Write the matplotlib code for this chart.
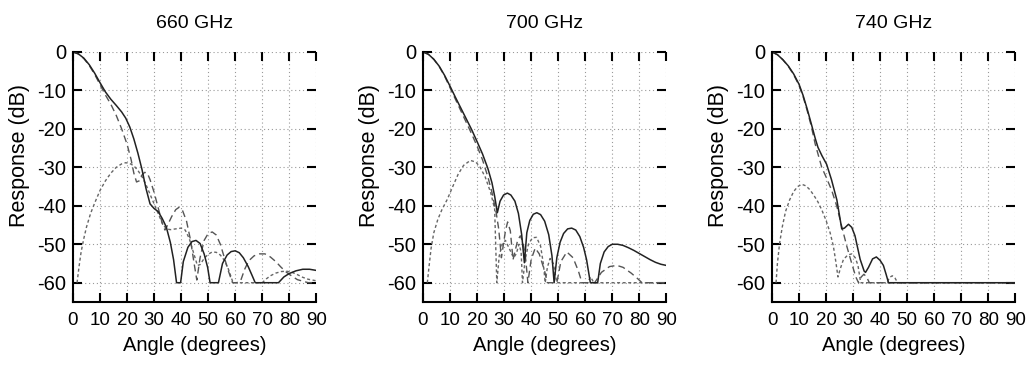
import matplotlib
matplotlib.use("Agg")
import matplotlib.pyplot as plt

plt.rcParams["font.family"] = ["Liberation Sans", "DejaVu Sans"]
plt.rcParams["axes.unicode_minus"] = False

titles = ["660 GHz", "700 GHz", "740 GHz"]

# ---- 660 GHz ----
s1_ang = [0, 2, 4, 6, 8, 10, 12, 14, 16, 18, 19.5, 21, 22.5, 24, 25.5, 27, 28.5, 30, 31.5, 33,
          34.5, 36, 37.2, 38.3, 39.8, 40.8, 42.5, 44, 45.5, 47, 48.5, 49.8, 50.7, 53.8, 55.3, 57,
          58.5, 60, 61.5, 63, 64.8, 66.3, 67.4, 76, 78, 80, 82.5, 85, 87.5, 90]
s1_db = [0, -0.5, -1.6, -3.3, -5.5, -8, -10.4, -12.3, -13.9, -15.6, -17.2, -19.5, -22.6, -26.3,
         -30.5, -35.5, -39.5, -40.7, -41.5, -43.3, -45.5, -49.5, -54, -60, -60, -54.5, -50.8,
         -49.3, -49, -49.8, -52.5, -56, -60, -60, -55, -52.8, -51.9, -51.7, -52.2, -53.5, -55.8,
         -58.2, -60, -60, -58.5, -57.6, -56.9, -56.5, -56.5, -56.8]

l1_ang = [0, 2, 4, 6, 8, 10, 12, 14, 16, 18, 20, 21.5, 22.5, 23.5, 24.5, 25.5, 26.5, 27.5, 28.5,
          30, 31.5, 33, 34, 35, 36.5, 38, 39.2, 40.5, 42, 43.5, 44.8, 45.8, 47, 48.5, 50, 51.5,
          53, 54.5, 56, 57.5, 59, 60.5, 62, 63.5, 65, 67, 69, 71, 73, 75, 77, 79, 81, 83, 85, 87, 90]
l1_db = [0, -0.5, -1.7, -3.5, -5.8, -8.5, -11.2, -13.6, -16.5, -20, -24, -28, -31.5, -33.8, -33.5,
         -32, -31.3, -31.5, -33.2, -36.5, -40.5, -44.5, -46.3, -45, -42.8, -41, -40.4, -41.2, -44,
         -49, -55, -59.3, -53.5, -49, -47.2, -46.8, -47.6, -50, -53.5, -57, -60, -60, -59.5, -56.5,
         -54.3, -53, -52.5, -52.5, -53.3, -54.5, -56, -57.3, -58.3, -59.2, -59.6, -60, -60]

d1_ang = [1.5, 2.2, 3, 4, 5, 6.5, 8, 10, 12, 14, 16, 18, 19.5, 21, 22.5, 24, 25.5, 27, 28.5, 30,
          31.5, 33, 34.5, 36, 38, 40, 41.5, 43, 44.5, 46, 47, 48.5, 50, 51.5, 53, 54.5, 56, 57.5,
          59.2, 70, 71.5, 73, 75, 77, 79, 81, 83, 85, 87, 90]
d1_db = [-60, -56, -52, -48.5, -45.5, -42, -39.3, -36, -33.5, -31.5, -30, -29.1, -28.8, -29,
         -29.6, -30.8, -32.4, -34.5, -37, -39.5, -42, -44.5, -46, -46.2, -46, -45.8, -46.3, -48.5,
         -52, -55.5, -55.3, -53.7, -52.6, -52, -52.1, -52.8, -54.2, -56.5, -60, -60, -59, -58.2,
         -57.5, -57.1, -57, -57.3, -57.9, -58.6, -59.1, -59.5]

# ---- 700 GHz ----
s2_ang = [0, 2, 4, 6, 8, 10, 12, 14, 16, 18, 20, 22, 24, 25.5, 26.5, 27.5, 28.5, 29.8, 31.2,
          32.5, 34, 35.3, 36.5, 37.5, 38.4, 39.5, 40.8, 42.1, 43.5, 45, 46.5, 47.7, 48.5, 49.5,
          50.7, 52, 53.5, 55, 56.5, 58, 59.4, 60.5, 61.9, 64.6, 65.6, 67, 68.5, 70, 72, 74, 76,
          78, 80, 82, 84, 86, 88, 90]
s2_db = [0, -0.6, -1.9, -3.7, -6.1, -8.9, -11.8, -14.6, -17.4, -20.2, -23.3, -26.5, -30.3, -34,
         -37.5, -41.8, -38.8, -37.2, -36.7, -37.2, -38.8, -42, -47.5, -54.8, -47, -43.8, -42.2,
         -41.8, -42.3, -44, -47.5, -53, -60, -53.5, -49.5, -47.2, -46, -45.8, -46.3, -48, -50.8,
         -54, -60, -60, -55, -52, -50.6, -50, -50, -50.3, -50.9, -51.6, -52.4, -53.2, -54, -54.7,
         -55.2, -55.5]

l2_ang = [0, 2, 4, 6, 8, 10, 12, 14, 16, 18, 20, 22, 24, 25.5, 27, 28, 29, 30.5, 31.3, 32.3,
          33.3, 35, 36, 37, 38, 38.8, 40, 41.5, 43, 45, 46, 49.5, 51, 53.2, 55.5, 57.5, 58.8,
          63.5, 66, 69, 71.7, 74, 77, 79.5, 81, 90]
l2_db = [0, -0.6, -1.9, -3.8, -6.3, -9.3, -12.3, -15.3, -18.3, -21.3, -24.5, -28, -32.5, -36.5,
         -41.5, -46, -53.5, -46.5, -44.2, -46.5, -54, -49, -47.8, -49.5, -54, -60, -54, -51,
         -52.5, -57, -60, -60, -54.5, -52, -53.5, -57, -60, -60, -57.3, -55.8, -55.5, -56,
         -57.5, -59, -60, -60]

d2_ang = [1.6, 2.2, 3, 4, 5.5, 7, 9, 11, 13, 15, 17.5, 19.5, 21, 23, 25, 26.5, 27.3, 28.2,
          29.3, 30.5, 31.5, 32.5, 33.5, 34.5, 35.5, 36.3, 36.8, 37.8, 39, 40.5, 42, 43.5, 44.5,
          45.2, 46, 47, 48.2, 49.5, 60.8, 62, 63.2, 90]
d2_db = [-60, -56, -51, -47, -43.5, -41, -38.3, -35, -31.8, -29.5, -28.2, -28.6, -29.8, -32.5,
         -36.5, -40.8, -60, -53, -50, -49, -50.5, -52, -53.5, -52.5, -50, -52, -60, -54, -50,
         -48.3, -48.2, -50.5, -55, -60, -56, -53.7, -55, -60, -60, -58.5, -60, -60]

# ---- 740 GHz ----
s3_ang = [0, 2, 4, 6, 8, 10, 11.5, 13, 14.5, 16, 17, 18.5, 20.2, 22, 24, 25.8, 26.8, 28.3,
          29.5, 30.7, 32.6, 34.1, 34.6, 35.7, 37.2, 38.6, 40, 41.2, 42.2, 43.1, 90]
s3_db = [0, -0.7, -2, -3.6, -5.7, -8.4, -11.3, -14.8, -18.6, -22.5, -24.8, -27, -29.2, -33.2,
         -38.5, -46, -45.8, -44.8, -45.6, -47.8, -53.9, -57, -57.3, -56, -53.8, -53.3, -54.2,
         -55.5, -57.8, -60, -60]

l3_ang = [0, 2, 4, 6, 8, 10, 11.5, 13, 14.5, 16, 18.4, 20, 22.1, 24, 25.8, 27.7, 29.5, 31, 32,
          33, 34, 35, 36, 90]
l3_db = [0, -0.7, -2, -3.7, -5.9, -8.7, -11.6, -15.2, -19.2, -24, -30, -32.5, -36, -40.2, -45.4,
         -50.6, -55, -58.5, -60, -58.5, -57.8, -58.5, -60, -60]

d3_ang = [1.5, 2, 2.8, 3.8, 5, 6.5, 8, 9.5, 11, 12.5, 14, 15.5, 17, 18.5, 20, 21.5, 22.7, 23.6,
          24.4, 25.2, 26.4, 28, 29.5, 30.8, 31.8, 32.8, 42.5, 43.5, 44.5, 45.5, 46.5, 90]
d3_db = [-60, -55, -49.8, -45.5, -41.5, -38.5, -36.3, -35, -34.4, -34.8, -35.8, -37.3, -39,
         -41.2, -43.8, -47, -50.5, -54.5, -58.5, -56.5, -54, -52.8, -52.5, -53.5, -55.5, -60,
         -60, -58.6, -58.2, -58.8, -60, -60]

panels = [
    (s1_ang, s1_db, l1_ang, l1_db, d1_ang, d1_db),
    (s2_ang, s2_db, l2_ang, l2_db, d2_ang, d2_db),
    (s3_ang, s3_db, l3_ang, l3_db, d3_ang, d3_db),
]
lefts = [73 / 1031, 423 / 1031, 772 / 1031]

fig = plt.figure(figsize=(10.31, 3.66), dpi=100)

for i, (sa, sd, la, ld, da, dd) in enumerate(panels):
    ax = fig.add_axes([lefts[i], 0.175, 0.236, 0.683])
    ax.plot(da, dd, color="#666666", lw=1.0, dashes=(2.2, 1.8))
    ax.plot(la, ld, color="#555555", lw=1.0, dashes=(5, 3))
    ax.plot(sa, sd, color="#222222", lw=1.1)

    ax.set_xlim(0, 90)
    ax.set_ylim(-65, 0)
    ax.set_xticks(range(0, 91, 10))
    ax.set_yticks(range(-60, 1, 10))
    ax.grid(True, color="#999999", lw=0.8, linestyle=(0, (1, 2.5)))
    ax.spines["top"].set_visible(False)
    ax.spines["right"].set_visible(False)
    ax.spines["left"].set_linewidth(1.5)
    ax.spines["bottom"].set_linewidth(1.5)
    ax.tick_params(direction="in", top=True, right=True, length=6.5, width=1.5,
                   colors="black")
    ax.tick_params(axis="x", pad=7, labelsize=13.5)
    ax.tick_params(axis="y", pad=5, labelsize=14.5)
    ax.set_xlabel("Angle (degrees)", fontsize=14.5, labelpad=5)
    ax.set_ylabel("Response (dB)", fontsize=15.5)
    ax.yaxis.set_label_coords(-0.175, 0.585)
    ax.set_title(titles[i], fontsize=14, pad=17)

fig.savefig("out.png", dpi=100)
